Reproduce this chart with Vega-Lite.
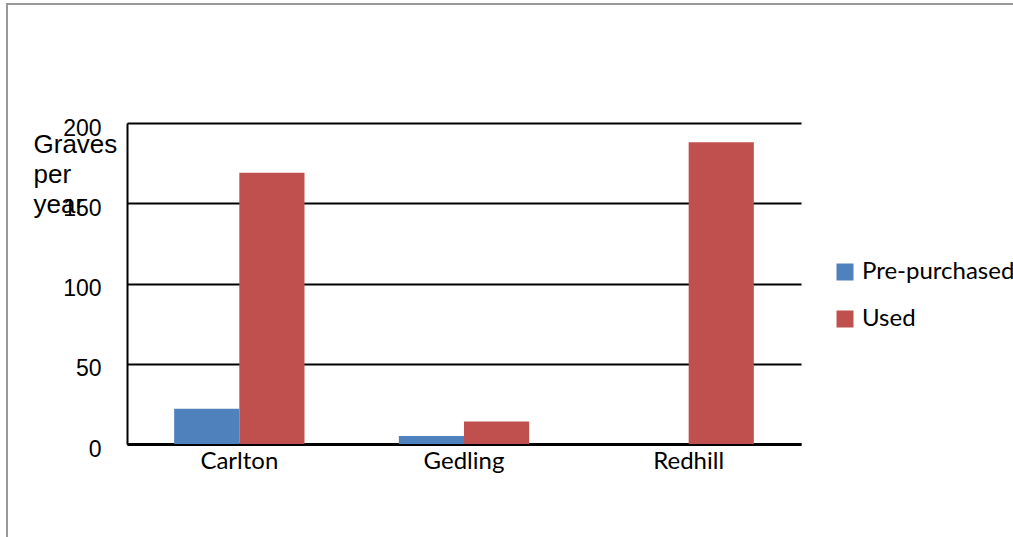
{
  "$schema": "https://vega.github.io/schema/vega-lite/v6.json",
  "width": 1020,
  "height": 540,
  "autosize": {"type": "none"},
  "padding": {"left": 7, "top": 4, "right": 0, "bottom": 0},
  "background": "white",
  "config": {
    "view": {"stroke": "#999999", "strokeWidth": 2},
    "font": "Liberation Sans"
  },
  "data": {
    "values": [
      {"site": "Carlton", "type": "Pre-purchased", "graves": 22},
      {"site": "Carlton", "type": "Used", "graves": 169},
      {"site": "Gedling", "type": "Pre-purchased", "graves": 5},
      {"site": "Gedling", "type": "Used", "graves": 14},
      {"site": "Redhill", "type": "Pre-purchased", "graves": 0},
      {"site": "Redhill", "type": "Used", "graves": 188}
    ]
  },
  "mark": {"type": "bar"},
  "encoding": {
    "x": {
      "field": "site",
      "type": "nominal",
      "sort": ["Carlton", "Gedling", "Redhill"],
      "scale": {"range": [120, 794], "paddingInner": 0.42, "paddingOuter": 0.21},
      "axis": {
        "title": null,
        "offset": -100,
        "labelAngle": 0,
        "labelFont": "Lato",
        "labelFontSize": 24,
        "labelColor": "black",
        "labelPadding": 5,
        "labelBaseline": "top",
        "ticks": false,
        "domainColor": "black",
        "domainWidth": 3
      }
    },
    "xOffset": {"field": "type", "type": "nominal", "sort": ["Pre-purchased", "Used"]},
    "y": {
      "field": "graves",
      "type": "quantitative",
      "scale": {"domain": [0, 200], "range": [440, 119], "nice": false},
      "axis": {
        "values": [0, 50, 100, 150, 200],
        "offset": -120,
        "title": ["Graves", "per", "year"],
        "titleAngle": 0,
        "titleAlign": "left",
        "titleBaseline": "alphabetic",
        "titleX": -94,
        "titleY": 148,
        "titleFont": "Liberation Sans",
        "titleFontSize": 26,
        "titleFontWeight": "normal",
        "titleLineHeight": 30,
        "titleColor": "black",
        "labelFont": "Liberation Sans",
        "labelFontSize": 23,
        "labelColor": "black",
        "labelPadding": 26,
        "labelBaseline": "middle",
        "labelOffset": 5,
        "ticks": false,
        "domainColor": "black",
        "domainWidth": 2,
        "grid": true,
        "gridColor": "black",
        "gridWidth": 2,
        "gridOpacity": 1
      }
    },
    "color": {
      "field": "type",
      "type": "nominal",
      "scale": {"domain": ["Pre-purchased", "Used"], "range": ["#4F81BD", "#C0504D"]},
      "legend": {
        "title": null,
        "orient": "none",
        "legendX": 826,
        "legendY": 256,
        "padding": 0,
        "symbolType": "square",
        "symbolSize": 289,
        "symbolStrokeWidth": 0,
        "symbolOpacity": 1,
        "labelFont": "Lato",
        "labelFontSize": 24,
        "labelColor": "black",
        "labelOffset": 5,
        "rowPadding": 23
      }
    }
  }
}
